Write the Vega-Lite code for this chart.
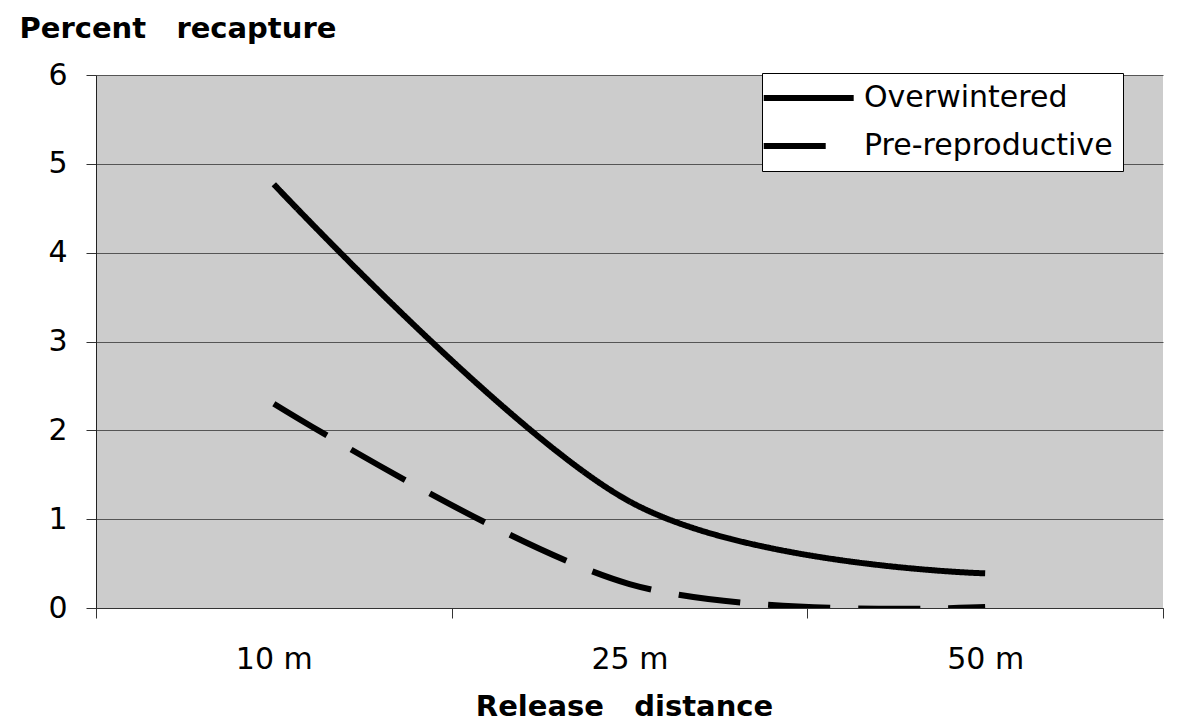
{
  "$schema": "https://vega.github.io/schema/vega-lite/v6.json",
  "width": 1067,
  "height": 533,
  "autosize": {"type": "none"},
  "padding": {"left": 96, "top": 75, "right": 22, "bottom": 119},
  "background": "white",
  "config": {
    "font": "DejaVu Sans",
    "view": {"fill": "#cccccc", "stroke": null},
    "axis": {"labelColor": "black", "titleColor": "black"}
  },
  "data": {
    "values": [
      {"distance": "10 m", "stage": "Overwintered", "percent": 4.77},
      {"distance": "25 m", "stage": "Overwintered", "percent": 1.2},
      {"distance": "50 m", "stage": "Overwintered", "percent": 0.39},
      {"distance": "10 m", "stage": "Pre-reproductive", "percent": 2.3},
      {"distance": "25 m", "stage": "Pre-reproductive", "percent": 0.27},
      {"distance": "50 m", "stage": "Pre-reproductive", "percent": 0.01}
    ]
  },
  "mark": {"type": "line", "interpolate": "cardinal", "strokeWidth": 6, "color": "black", "strokeCap": "butt", "clip": true},
  "encoding": {
    "x": {
      "field": "distance",
      "type": "ordinal",
      "sort": ["10 m", "25 m", "50 m"],
      "scale": {"type": "band", "paddingInner": 0, "paddingOuter": 0},
      "axis": {
        "title": "Release\u00a0\u00a0\u00a0distance",
        "titleFontSize": 29,
        "titleFontWeight": "bold",
        "titleX": 528,
        "titleY": 107,
        "titleBaseline": "alphabetic",
        "labelAngle": 0,
        "labelFontSize": 30,
        "labelBaseline": "alphabetic",
        "labelPadding": 50,
        "tickBand": "extent",
        "tickSize": 10,
        "tickColor": "#333333",
        "domainColor": "#333333",
        "grid": false
      }
    },
    "y": {
      "field": "percent",
      "type": "quantitative",
      "scale": {"domain": [0, 6], "nice": false},
      "axis": {
        "values": [0, 1, 2, 3, 4, 5, 6],
        "title": "Percent\u00a0\u00a0\u00a0recapture",
        "titleAngle": 0,
        "titleAlign": "left",
        "titleBaseline": "alphabetic",
        "titleX": -77,
        "titleY": -38,
        "titleFontSize": 29,
        "titleFontWeight": "bold",
        "labelFontSize": 30,
        "labelPadding": 19,
        "tickSize": 10,
        "tickColor": "#333333",
        "domainColor": "#222222",
        "gridColor": "#555555",
        "gridOpacity": 1,
        "gridWidth": 1
      }
    },
    "strokeDash": {
      "field": "stage",
      "type": "nominal",
      "scale": {"domain": ["Overwintered", "Pre-reproductive"], "range": [[1, 0], [62, 28]]},
      "legend": {
        "title": null,
        "orient": "none",
        "legendX": 666,
        "legendY": -2,
        "fillColor": "white",
        "strokeColor": "black",
        "padding": 10,
        "labelFontSize": 30,
        "labelColor": "black",
        "labelLimit": 500,
        "symbolType": "M-2.07,0H5.93",
        "symbolSize": 506,
        "symbolStrokeWidth": 6,
        "symbolStrokeColor": "black",
        "symbolFillColor": "transparent",
        "labelOffset": 62,
        "rowPadding": 18
      }
    }
  }
}
